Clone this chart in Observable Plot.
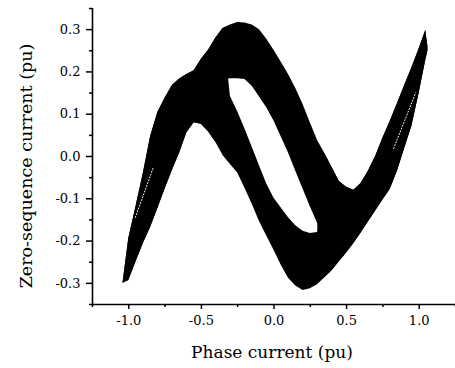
<!DOCTYPE html>
<html><head><meta charset="utf-8">
<script src="https://cdn.jsdelivr.net/npm/d3@7"></script>
<script src="https://cdn.jsdelivr.net/npm/@observablehq/plot@0.6"></script>
<style>
html,body{margin:0;padding:0;background:#fff;}
#chart{width:455px;height:368px;position:relative;}
</style></head><body><div id="chart"></div>
<script>
// Phase current samples (pu) and the edges of the black band (pu)
const phase = [-1.04,-1.0,-0.95,-0.9,-0.85,-0.8,-0.75,-0.7,-0.65,-0.6,-0.55,-0.5,-0.45,-0.4,-0.35,-0.3,-0.25,-0.2,-0.15,-0.1,-0.05,0,0.05,0.1,0.15,0.2,0.25,0.3,0.35,0.4,0.45,0.5,0.55,0.6,0.65,0.7,0.75,0.8,0.85,0.9,0.95,1.0,1.045,1.06];
const upperEdge = [-0.300,-0.194,-0.118,-0.040,0.047,0.104,0.138,0.168,0.183,0.194,0.203,0.230,0.252,0.280,0.303,0.311,0.317,0.316,0.311,0.300,0.277,0.251,0.223,0.194,0.161,0.123,0.080,0.038,0.007,-0.026,-0.059,-0.073,-0.080,-0.064,-0.035,0.000,0.043,0.083,0.125,0.168,0.210,0.255,0.298,0.260];
const lowerEdge = [-0.300,-0.293,-0.249,-0.206,-0.168,-0.123,-0.077,-0.033,0.008,0.056,0.080,0.076,0.058,0.033,0.002,-0.019,-0.039,-0.075,-0.113,-0.154,-0.188,-0.222,-0.257,-0.288,-0.306,-0.317,-0.313,-0.303,-0.287,-0.270,-0.249,-0.228,-0.206,-0.181,-0.155,-0.129,-0.103,-0.078,-0.035,0.019,0.072,0.150,0.227,0.250];
// inner (white) gap between the two branches
const holeTop = [null,null,null,null,null,null,null,null,null,null,null,null,null,null,0.180,0.184,0.184,0.182,0.166,0.141,0.115,0.084,0.046,0.008,-0.035,-0.077,-0.119,-0.158,null,null,null,null,null,null,null,null,null,null,null,null,null,null,null,null];
const holeBottom = [null,null,null,null,null,null,null,null,null,null,null,null,null,null,null,0.142,0.106,0.065,0.022,-0.022,-0.065,-0.099,-0.122,-0.145,-0.164,-0.177,-0.182,-0.180,null,null,null,null,null,null,null,null,null,null,null,null,null,null,null,null];
// thin white dotted gaps inside the tips
const gapLeftX = [-0.955,-0.831], gapLeftY = [-0.144,-0.026];
const gapRightX = [0.824,0.976], gapRightY = [0.019,0.151];

const xMajor = [-1, -0.5, 0, 0.5, 1];
const xMinor = [-1.25, -0.75, -0.25, 0.25, 0.75, 1.25];
const yMajor = [-0.3, -0.2, -0.1, 0, 0.1, 0.2, 0.3];
const yMinor = [-0.35, -0.25, -0.15, -0.05, 0.05, 0.15, 0.25, 0.35];
const xLabel = "Phase current (pu)";
const yLabel = "Zero-sequence current (pu)";

const branchA = phase.map((x, i) => ({x, y1: lowerEdge[i], y2: holeBottom[i] ?? upperEdge[i]}));
const branchB = phase.map((x, i) => ({x, y1: holeTop[i] ?? lowerEdge[i], y2: upperEdge[i]}));
const gapL = gapLeftX.map((x, i) => ({x, y: gapLeftY[i]}));
const gapR = gapRightX.map((x, i) => ({x, y: gapRightY[i]}));
const fmt = d => d.toFixed(1);

const plot = Plot.plot({
  width: 455, height: 368,
  marginLeft: 92, marginRight: 0, marginTop: 8, marginBottom: 64,
  style: {fontFamily: "DejaVu Serif", fontSize: "13px", background: "white", color: "black"},
  x: {domain: [-1.25, 1.25]},
  y: {domain: [-0.35, 0.35]},
  marks: [
    Plot.areaY(branchA, {x: "x", y1: "y1", y2: "y2", fill: "black", curve: "linear"}),
    Plot.areaY(branchB, {x: "x", y1: "y1", y2: "y2", fill: "black", curve: "linear"}),
    Plot.line(gapL, {x: "x", y: "y", stroke: "white", strokeWidth: 1, strokeDasharray: "1,2"}),
    Plot.line(gapR, {x: "x", y: "y", stroke: "white", strokeWidth: 1, strokeDasharray: "1,2"}),
    Plot.ruleX([-1.25], {stroke: "black", strokeWidth: 1.6}),
    Plot.ruleY([-0.35], {stroke: "black", strokeWidth: 1.6}),
    Plot.axisX(xMajor, {tickSize: 5, tickPadding: 6, tickFormat: fmt, strokeWidth: 1.5, fontSize: 13, label: null}),
    Plot.axisX(xMinor, {tickSize: 3, tickFormat: () => "", strokeWidth: 1.5, label: null}),
    Plot.axisY(yMajor, {tickSize: 6, tickPadding: 6, tickFormat: fmt, strokeWidth: 1.5, fontSize: 13, label: null}),
    Plot.axisY(yMinor, {tickSize: 3, tickFormat: () => "", strokeWidth: 1.5, label: null})
  ]
});

const svg = d3.select(plot);
svg.append("text").attr("x", 272).attr("y", 358).attr("text-anchor", "middle")
  .attr("font-family", "DejaVu Serif").attr("font-size", 17).attr("fill", "black").text(xLabel);
svg.append("text").attr("transform", "translate(32,166) rotate(-90)").attr("text-anchor", "middle")
  .attr("font-family", "DejaVu Serif").attr("font-size", 17.5).attr("fill", "black").text(yLabel);

document.getElementById("chart").appendChild(plot);
</script></body></html>
